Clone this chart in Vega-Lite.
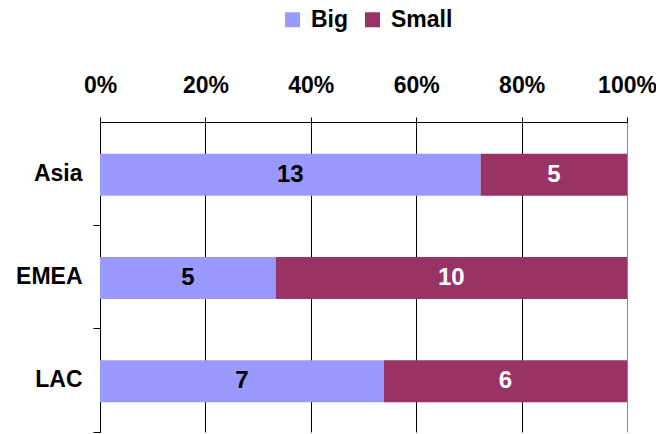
{
  "$schema": "https://vega.github.io/schema/vega-lite/v6.json",
  "width": 527,
  "height": 310,
  "autosize": "none",
  "padding": {"left": 100, "top": 122, "right": 29, "bottom": 2},
  "background": "white",
  "config": {
    "view": {"stroke": null},
    "font": "Liberation Sans",
    "axis": {"labelFont": "Liberation Sans", "labelFontWeight": "bold", "labelFontSize": 23, "labelColor": "black", "domainColor": "black", "tickColor": "black"},
    "legend": {"labelFont": "Liberation Sans", "labelFontWeight": "bold", "labelFontSize": 23, "labelColor": "black"}
  },
  "data": {
    "values": [
      {"region": "Asia", "size": "Big", "order": 1, "count": 13},
      {"region": "Asia", "size": "Small", "order": 2, "count": 5},
      {"region": "EMEA", "size": "Big", "order": 1, "count": 5},
      {"region": "EMEA", "size": "Small", "order": 2, "count": 10},
      {"region": "LAC", "size": "Big", "order": 1, "count": 7},
      {"region": "LAC", "size": "Small", "order": 2, "count": 6}
    ]
  },
  "transform": [
    {"stack": "count", "groupby": ["region"], "sort": [{"field": "order", "order": "ascending"}], "offset": "normalize", "as": ["v0", "v1"]},
    {"calculate": "(datum.v0 + datum.v1) / 2", "as": "mid"}
  ],
  "encoding": {
    "y": {
      "field": "region", "type": "nominal", "sort": ["Asia", "EMEA", "LAC"], "title": null,
      "scale": {"paddingInner": 0, "paddingOuter": 0},
      "axis": {"bandPosition": 1, "tickSize": 7, "labelPadding": 11, "domainColor": "black", "tickColor": "black"}
    }
  },
  "layer": [
    {
      "mark": {"type": "bar", "height": 42, "yOffset": 1},
      "encoding": {
        "x": {
          "field": "v0", "type": "quantitative", "title": null,
          "scale": {"domain": [0, 1], "nice": false},
          "axis": {
            "orient": "top", "format": ".0%", "values": [0, 0.2, 0.4, 0.6, 0.8, 1],
            "tickSize": 5, "labelPadding": 20, "labelFlush": false, "grid": true,
            "gridColor": {"condition": {"test": "datum.value >= 1", "value": "#888888"}, "value": "black"},
            "gridWidth": 1, "gridOpacity": 1
          }
        },
        "x2": {"field": "v1"},
        "color": {
          "field": "size", "type": "nominal", "title": null,
          "scale": {"domain": ["Big", "Small"], "range": ["#9999FF", "#993366"]},
          "legend": {"orient": "none", "direction": "horizontal", "legendX": 181, "legendY": -114, "symbolType": "square", "symbolSize": 225, "symbolOpacity": 1, "symbolStrokeWidth": 0, "columnPadding": 12, "labelOffset": 7}
        }
      }
    },
    {
      "mark": {"type": "text", "font": "Liberation Sans", "fontWeight": "bold", "fontSize": 24, "baseline": "middle", "align": "center", "yOffset": 1},
      "encoding": {
        "x": {"field": "mid", "type": "quantitative"},
        "text": {"field": "count", "type": "quantitative"},
        "color": {"condition": {"test": "datum.size == 'Small'", "value": "white"}, "value": "black"}
      }
    }
  ]
}
